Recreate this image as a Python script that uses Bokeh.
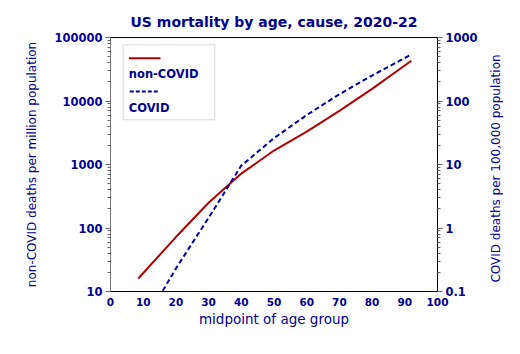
import math
from bokeh.plotting import figure
from bokeh.layouts import row
from bokeh.models import (Range1d, LogAxis, LogScale, FixedTicker, CustomJSTickFormatter,
                          BoxAnnotation, Label, Arrow)
from bokeh.embed import file_html
from bokeh.resources import INLINE

# data
age_mid = [8.5, 20, 30, 40, 50, 60, 70, 80, 92]
non_covid_per_million = [16, 72, 250, 720, 1660, 3300, 7000, 15500, 43000]
covid_per_100k = [0.023, 0.23, 1.45, 9.6, 26, 60, 128, 252, 540]

left_ticks = [10, 100, 1000, 10000, 100000]
right_ticks = [0.1, 1, 10, 100, 1000]
x_ticks = [0, 10, 20, 30, 40, 50, 60, 70, 80, 90, 100]

TXT = "#000090"
RED = "#B00000"
BLUE = "#0000A8"
FONT = "DejaVu Sans"

p = figure(width=487, height=354, x_range=Range1d(0, 100), y_range=Range1d(10, 100000),
           y_axis_type="log", output_backend="svg", toolbar_location=None,
           min_border_left=110, min_border_right=50, min_border_top=37, min_border_bottom=63,
           title="US mortality by age, cause, 2020-22")
p.extra_y_ranges = {"covid": Range1d(0.1, 1000)}
p.extra_y_scales = {"covid": LogScale()}

p.xgrid.visible = False
p.ygrid.visible = False
p.outline_line_color = "black"
p.outline_line_width = 1
p.background_fill_color = "white"
p.border_fill_color = "white"

p.title.text_font = FONT
p.title.text_font_size = "14px"
p.title.text_font_style = "bold"
p.title.text_color = TXT
p.title.align = "center"
p.title.offset = -9
p.title.standoff = 15

fmt = CustomJSTickFormatter(code="return String(tick);")

def minors(decades):
    return [m * d for d in decades for m in range(2, 10)]

# left axis
la = p.left[0]
la.ticker = FixedTicker(ticks=left_ticks, minor_ticks=minors([10, 100, 1000, 10000]))
la.formatter = fmt
la.axis_label = "non-COVID deaths per million population"
la.axis_label_text_font = FONT
la.axis_label_text_font_size = "12px"
la.axis_label_text_font_style = "normal"
la.axis_label_text_color = TXT
la.axis_label_standoff = 12

# right axis
ra = LogAxis(y_range_name="covid")
ra.ticker = FixedTicker(ticks=right_ticks, minor_ticks=minors([0.1, 1, 10, 100]))
ra.formatter = fmt
p.add_layout(ra, "right")

for ax in (la, ra):
    ax.major_label_text_font = FONT
    ax.major_label_text_font_size = "11.5px"
    ax.major_label_text_font_style = "bold"
    ax.major_label_text_color = TXT
    ax.major_label_standoff = 3
    ax.major_tick_in = 0
    ax.major_tick_out = 5
    ax.minor_tick_in = 0
    ax.minor_tick_out = 3
    ax.major_tick_line_color = "#666666"
    ax.minor_tick_line_color = "#666666"
la.axis_line_color = "#777777"
ra.axis_line_color = "black"

xa = p.below[0]
xa.ticker = FixedTicker(ticks=x_ticks, minor_ticks=[])
xa.axis_label = "midpoint of age group"
xa.axis_label_text_font = FONT
xa.axis_label_text_font_size = "13.5px"
xa.axis_label_text_font_style = "normal"
xa.axis_label_text_color = TXT
xa.axis_label_standoff = 2
xa.major_label_text_font = FONT
xa.major_label_text_font_size = "10.5px"
xa.major_label_text_font_style = "bold"
xa.major_label_text_color = TXT
xa.major_label_standoff = 6
xa.major_tick_in = 0
xa.major_tick_out = 0
xa.axis_line_color = "black"

p.line(age_mid, non_covid_per_million, line_color=RED, line_width=2)
p.line(age_mid, covid_per_100k, y_range_name="covid", line_color=BLUE, line_width=2,
       line_dash="5 3")

# legend (glyph sample above each label, as in the reference)
box = BoxAnnotation(left=12.7, right=104.3, top=246.7, bottom=171.7,
                    left_units="screen", right_units="screen",
                    top_units="screen", bottom_units="screen",
                    fill_color=None, line_color="#888888", line_width=1)
p.add_layout(box)
p.add_layout(Arrow(end=None, x_start=18.3, y_start=233.3, x_end=50, y_end=233.3,
                   start_units="screen", end_units="screen", line_color=RED, line_width=2))
p.add_layout(Arrow(end=None, x_start=19.3, y_start=200, x_end=49.3, y_end=200,
                   start_units="screen", end_units="screen", line_color=BLUE, line_width=2,
                   line_dash="4 2"))
for txt, yy in (("non-COVID", 217.7), ("COVID", 183.7)):
    p.add_layout(Label(x=18.3, y=yy, x_units="screen", y_units="screen", text=txt,
                       text_font=FONT, text_font_size="11.5px", text_font_style="bold",
                       text_color=TXT, text_baseline="middle", text_align="left"))

# narrow strip to the right carrying the right axis title, read bottom to top
p2 = figure(width=33, height=354, x_range=Range1d(0, 1), y_range=Range1d(0, 1),
            x_axis_location=None, y_axis_location=None, output_backend="svg",
            toolbar_location=None, min_border=0)
p2.xgrid.visible = False
p2.ygrid.visible = False
p2.outline_line_color = None
p2.background_fill_color = "white"
p2.border_fill_color = "white"
p2.add_layout(Label(x=8, y=123, x_units="screen", y_units="screen",
                    text="COVID deaths per 100,000 population", angle=math.pi / 2,
                    text_font=FONT, text_font_size="12px", text_color=TXT,
                    text_align="center", text_baseline="middle"))

layout = row(p, p2, spacing=0)
open("out.html", "w").write(file_html(layout, INLINE))
